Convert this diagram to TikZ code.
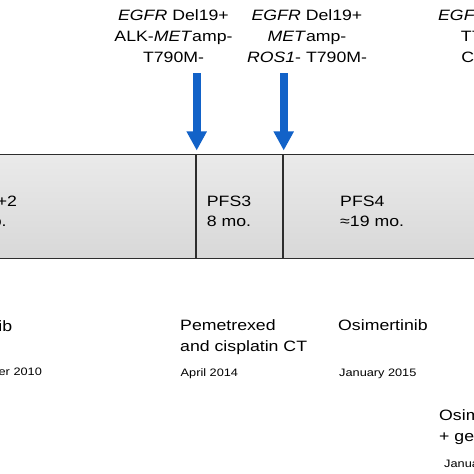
\documentclass[tikz,border=0pt]{standalone}
\usepackage{fontspec}
\setmainfont{Liberation Sans}[FakeStretch=1.18]
\usetikzlibrary{arrows.meta}
\definecolor{arrowblue}{RGB}{18,98,200}
\definecolor{linegray}{RGB}{45,45,45}
\definecolor{celltop}{RGB}{234,234,234}
\definecolor{cellbot}{RGB}{216,216,216}
\tikzset{
  bigtext/.style={font=\fontsize{15bp}{20.8bp}\selectfont, inner sep=0pt},
  smalltext/.style={font=\fontsize{10.8bp}{13bp}\selectfont, inner sep=0pt, anchor=base west},
  mutcol/.style={bigtext, align=center, anchor=base},
  celltxt/.style={font=\fontsize{15bp}{20bp}\selectfont, inner sep=0pt, align=left, anchor=base west},
  drugtxt/.style={bigtext, align=left, anchor=base west},
  cellbox/.style={draw=linegray, line width=1.5bp, top color=celltop, bottom color=cellbot,
    minimum height=104bp, inner sep=0pt, outer sep=0pt, anchor=north west},
  bluearrow/.style={draw=arrowblue, line width=8bp, -{Triangle[width=19bp,length=19bp]}}
}
\begin{document}
\begin{tikzpicture}[x=1bp,y=-1bp]
\useasboundingbox (0,0) rectangle (474,474);
\clip (0,0) rectangle (474,474);
\fill[white] (0,0) rectangle (474,474);
% timeline cells
\node[cellbox, minimum width=296.2bp] (c1) at (-100,154.3) {};
\node[cellbox, minimum width=86.7bp] (c2) at (196.2,154.3) {};
\node[cellbox, minimum width=320bp] (c3) at (282.9,154.3) {};
% cell texts (anchor = baseline of last line)
\node[celltxt] (p12) at (-47.7,226.6) {PFS1+2\\41 mo.};
\node[celltxt] (p3) at (206.7,226.6) {PFS3\\8 mo.};
\node[celltxt] (p4) at (340,226.6) {PFS4\\≈19 mo.};
% mutation labels
\node[mutcol] (m1) at (173.5,62.3) {\textit{EGFR} Del19+\\ALK-\textit{MET}amp-\\T790M-};
\node[mutcol] (m2) at (307,62.3) {\textit{EGFR} Del19+\\\textit{MET}amp-\\\textit{ROS1}- T790M-};
\node[mutcol] (m3) at (493.5,62.3) {\textit{EGFR} Del19+\\T790M+\\C797S+};
% arrows
\coordinate (a1s) at (196.7,73.3);
\coordinate (a1e) at (196.7,150.5);
\coordinate (a2s) at (283.7,73.3);
\coordinate (a2e) at (283.7,150.5);
\draw[bluearrow] (a1s) -- (a1e);
\draw[bluearrow] (a2s) -- (a2e);
% treatments
\node[drugtxt] (d1) at (-53,331) {Gefitinib};
\node[smalltext] (t1) at (-49,375.5) {December 2010};
\node[drugtxt] (d2) at (180,351.5) {Pemetrexed\\and cisplatin CT};
\node[smalltext] (t2) at (180.5,376.5) {April 2014};
\node[drugtxt] (d3) at (338,330) {Osimertinib};
\node[smalltext] (t3) at (339,376) {January 2015};
\node[drugtxt] (d4) at (439,441) {Osimertinib\\+ gefitinib};
\node[smalltext] (t4) at (444,467) {January 2016};
\end{tikzpicture}
\end{document}
